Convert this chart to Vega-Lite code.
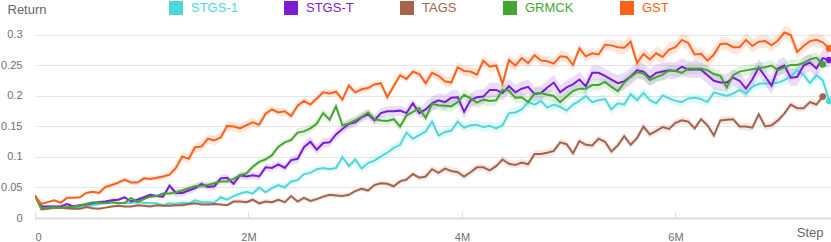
{
"$schema":"https://vega.github.io/schema/vega-lite/v6.json",
"width":796,"height":196,
"autosize":{"type":"none"},
"padding":{"left":35,"top":22,"right":0,"bottom":24},
"background":"white",
"config":{"view":{"stroke":null},"font":"Liberation Sans"},
"data":{"values":[
{"s":"STGS-1","x":0,"y":0.037,"e":0.002},{"s":"STGS-1","x":0.06,"y":0.019,"e":0.002},{"s":"STGS-1","x":0.12,"y":0.016,"e":0.002},{"s":"STGS-1","x":0.18,"y":0.016,"e":0.002},{"s":"STGS-1","x":0.24,"y":0.017,"e":0.002},{"s":"STGS-1","x":0.3,"y":0.016,"e":0.002},{"s":"STGS-1","x":0.36,"y":0.017,"e":0.002},{"s":"STGS-1","x":0.42,"y":0.018,"e":0.002},{"s":"STGS-1","x":0.48,"y":0.019,"e":0.002},{"s":"STGS-1","x":0.54,"y":0.021,"e":0.002},{"s":"STGS-1","x":0.6,"y":0.023,"e":0.002},{"s":"STGS-1","x":0.66,"y":0.025,"e":0.002},{"s":"STGS-1","x":0.72,"y":0.025,"e":0.002},{"s":"STGS-1","x":0.78,"y":0.025,"e":0.002},{"s":"STGS-1","x":0.84,"y":0.024,"e":0.002},{"s":"STGS-1","x":0.9,"y":0.025,"e":0.002},{"s":"STGS-1","x":0.96,"y":0.026,"e":0.002},{"s":"STGS-1","x":1.02,"y":0.025,"e":0.002},{"s":"STGS-1","x":1.08,"y":0.024,"e":0.002},{"s":"STGS-1","x":1.14,"y":0.024,"e":0.002},{"s":"STGS-1","x":1.2,"y":0.021,"e":0.002},{"s":"STGS-1","x":1.26,"y":0.024,"e":0.005},{"s":"STGS-1","x":1.32,"y":0.023,"e":0.005},{"s":"STGS-1","x":1.38,"y":0.025,"e":0.005},{"s":"STGS-1","x":1.44,"y":0.024,"e":0.005},{"s":"STGS-1","x":1.5,"y":0.029,"e":0.005},{"s":"STGS-1","x":1.56,"y":0.026,"e":0.005},{"s":"STGS-1","x":1.62,"y":0.026,"e":0.005},{"s":"STGS-1","x":1.68,"y":0.025,"e":0.005},{"s":"STGS-1","x":1.74,"y":0.034,"e":0.005},{"s":"STGS-1","x":1.8,"y":0.030,"e":0.005},{"s":"STGS-1","x":1.86,"y":0.036,"e":0.005},{"s":"STGS-1","x":1.92,"y":0.040,"e":0.005},{"s":"STGS-1","x":1.98,"y":0.043,"e":0.005},{"s":"STGS-1","x":2.04,"y":0.040,"e":0.005},{"s":"STGS-1","x":2.1,"y":0.050,"e":0.005},{"s":"STGS-1","x":2.16,"y":0.042,"e":0.005},{"s":"STGS-1","x":2.22,"y":0.049,"e":0.005},{"s":"STGS-1","x":2.28,"y":0.054,"e":0.005},{"s":"STGS-1","x":2.34,"y":0.050,"e":0.005},{"s":"STGS-1","x":2.4,"y":0.060,"e":0.005},{"s":"STGS-1","x":2.46,"y":0.062,"e":0.005},{"s":"STGS-1","x":2.52,"y":0.072,"e":0.005},{"s":"STGS-1","x":2.58,"y":0.074,"e":0.005},{"s":"STGS-1","x":2.64,"y":0.080,"e":0.005},{"s":"STGS-1","x":2.7,"y":0.082,"e":0.005},{"s":"STGS-1","x":2.76,"y":0.080,"e":0.005},{"s":"STGS-1","x":2.82,"y":0.082,"e":0.005},{"s":"STGS-1","x":2.88,"y":0.100,"e":0.005},{"s":"STGS-1","x":2.94,"y":0.085,"e":0.005},{"s":"STGS-1","x":3,"y":0.096,"e":0.005},{"s":"STGS-1","x":3.06,"y":0.081,"e":0.008},{"s":"STGS-1","x":3.12,"y":0.090,"e":0.008},{"s":"STGS-1","x":3.18,"y":0.094,"e":0.008},{"s":"STGS-1","x":3.24,"y":0.101,"e":0.008},{"s":"STGS-1","x":3.3,"y":0.107,"e":0.008},{"s":"STGS-1","x":3.36,"y":0.115,"e":0.008},{"s":"STGS-1","x":3.42,"y":0.120,"e":0.008},{"s":"STGS-1","x":3.48,"y":0.140,"e":0.008},{"s":"STGS-1","x":3.54,"y":0.130,"e":0.008},{"s":"STGS-1","x":3.6,"y":0.136,"e":0.008},{"s":"STGS-1","x":3.66,"y":0.142,"e":0.008},{"s":"STGS-1","x":3.72,"y":0.158,"e":0.008},{"s":"STGS-1","x":3.78,"y":0.135,"e":0.008},{"s":"STGS-1","x":3.84,"y":0.141,"e":0.008},{"s":"STGS-1","x":3.9,"y":0.143,"e":0.008},{"s":"STGS-1","x":3.96,"y":0.158,"e":0.008},{"s":"STGS-1","x":4.02,"y":0.148,"e":0.008},{"s":"STGS-1","x":4.08,"y":0.152,"e":0.008},{"s":"STGS-1","x":4.14,"y":0.153,"e":0.008},{"s":"STGS-1","x":4.2,"y":0.149,"e":0.008},{"s":"STGS-1","x":4.26,"y":0.151,"e":0.008},{"s":"STGS-1","x":4.32,"y":0.147,"e":0.008},{"s":"STGS-1","x":4.38,"y":0.152,"e":0.008},{"s":"STGS-1","x":4.44,"y":0.172,"e":0.008},{"s":"STGS-1","x":4.5,"y":0.173,"e":0.008},{"s":"STGS-1","x":4.56,"y":0.178,"e":0.008},{"s":"STGS-1","x":4.62,"y":0.190,"e":0.008},{"s":"STGS-1","x":4.68,"y":0.186,"e":0.008},{"s":"STGS-1","x":4.74,"y":0.192,"e":0.008},{"s":"STGS-1","x":4.8,"y":0.181,"e":0.008},{"s":"STGS-1","x":4.86,"y":0.186,"e":0.008},{"s":"STGS-1","x":4.92,"y":0.182,"e":0.008},{"s":"STGS-1","x":4.98,"y":0.176,"e":0.008},{"s":"STGS-1","x":5.04,"y":0.186,"e":0.008},{"s":"STGS-1","x":5.1,"y":0.192,"e":0.008},{"s":"STGS-1","x":5.16,"y":0.200,"e":0.008},{"s":"STGS-1","x":5.22,"y":0.190,"e":0.008},{"s":"STGS-1","x":5.28,"y":0.193,"e":0.008},{"s":"STGS-1","x":5.34,"y":0.195,"e":0.008},{"s":"STGS-1","x":5.4,"y":0.178,"e":0.008},{"s":"STGS-1","x":5.46,"y":0.188,"e":0.008},{"s":"STGS-1","x":5.52,"y":0.186,"e":0.008},{"s":"STGS-1","x":5.58,"y":0.203,"e":0.008},{"s":"STGS-1","x":5.64,"y":0.193,"e":0.008},{"s":"STGS-1","x":5.7,"y":0.205,"e":0.008},{"s":"STGS-1","x":5.76,"y":0.193,"e":0.008},{"s":"STGS-1","x":5.82,"y":0.188,"e":0.008},{"s":"STGS-1","x":5.88,"y":0.201,"e":0.008},{"s":"STGS-1","x":5.94,"y":0.196,"e":0.008},{"s":"STGS-1","x":6,"y":0.192,"e":0.008},{"s":"STGS-1","x":6.06,"y":0.190,"e":0.008},{"s":"STGS-1","x":6.12,"y":0.196,"e":0.008},{"s":"STGS-1","x":6.18,"y":0.197,"e":0.008},{"s":"STGS-1","x":6.24,"y":0.195,"e":0.008},{"s":"STGS-1","x":6.3,"y":0.190,"e":0.008},{"s":"STGS-1","x":6.36,"y":0.206,"e":0.008},{"s":"STGS-1","x":6.42,"y":0.203,"e":0.008},{"s":"STGS-1","x":6.48,"y":0.200,"e":0.008},{"s":"STGS-1","x":6.54,"y":0.204,"e":0.008},{"s":"STGS-1","x":6.6,"y":0.210,"e":0.008},{"s":"STGS-1","x":6.66,"y":0.204,"e":0.008},{"s":"STGS-1","x":6.72,"y":0.215,"e":0.008},{"s":"STGS-1","x":6.78,"y":0.220,"e":0.008},{"s":"STGS-1","x":6.84,"y":0.221,"e":0.008},{"s":"STGS-1","x":6.9,"y":0.220,"e":0.008},{"s":"STGS-1","x":6.96,"y":0.222,"e":0.008},{"s":"STGS-1","x":7.02,"y":0.226,"e":0.008},{"s":"STGS-1","x":7.08,"y":0.232,"e":0.008},{"s":"STGS-1","x":7.14,"y":0.242,"e":0.008},{"s":"STGS-1","x":7.2,"y":0.235,"e":0.008},{"s":"STGS-1","x":7.26,"y":0.221,"e":0.008},{"s":"STGS-1","x":7.32,"y":0.234,"e":0.008},{"s":"STGS-1","x":7.38,"y":0.226,"e":0.008},{"s":"STGS-1","x":7.44,"y":0.192,"e":0.008},
{"s":"TAGS","x":0,"y":0.037,"e":0.002},{"s":"TAGS","x":0.06,"y":0.014,"e":0.002},{"s":"TAGS","x":0.12,"y":0.015,"e":0.002},{"s":"TAGS","x":0.18,"y":0.017,"e":0.002},{"s":"TAGS","x":0.24,"y":0.017,"e":0.002},{"s":"TAGS","x":0.3,"y":0.016,"e":0.002},{"s":"TAGS","x":0.36,"y":0.015,"e":0.002},{"s":"TAGS","x":0.42,"y":0.015,"e":0.002},{"s":"TAGS","x":0.48,"y":0.018,"e":0.002},{"s":"TAGS","x":0.54,"y":0.016,"e":0.002},{"s":"TAGS","x":0.6,"y":0.015,"e":0.002},{"s":"TAGS","x":0.66,"y":0.017,"e":0.002},{"s":"TAGS","x":0.72,"y":0.019,"e":0.002},{"s":"TAGS","x":0.78,"y":0.020,"e":0.002},{"s":"TAGS","x":0.84,"y":0.019,"e":0.002},{"s":"TAGS","x":0.9,"y":0.019,"e":0.002},{"s":"TAGS","x":0.96,"y":0.021,"e":0.002},{"s":"TAGS","x":1.02,"y":0.020,"e":0.002},{"s":"TAGS","x":1.08,"y":0.019,"e":0.002},{"s":"TAGS","x":1.14,"y":0.021,"e":0.002},{"s":"TAGS","x":1.2,"y":0.020,"e":0.002},{"s":"TAGS","x":1.26,"y":0.020,"e":0.002},{"s":"TAGS","x":1.32,"y":0.021,"e":0.002},{"s":"TAGS","x":1.38,"y":0.021,"e":0.002},{"s":"TAGS","x":1.44,"y":0.023,"e":0.002},{"s":"TAGS","x":1.5,"y":0.024,"e":0.002},{"s":"TAGS","x":1.56,"y":0.022,"e":0.002},{"s":"TAGS","x":1.62,"y":0.022,"e":0.002},{"s":"TAGS","x":1.68,"y":0.023,"e":0.002},{"s":"TAGS","x":1.74,"y":0.022,"e":0.002},{"s":"TAGS","x":1.8,"y":0.021,"e":0.002},{"s":"TAGS","x":1.86,"y":0.027,"e":0.004},{"s":"TAGS","x":1.92,"y":0.027,"e":0.004},{"s":"TAGS","x":1.98,"y":0.026,"e":0.004},{"s":"TAGS","x":2.04,"y":0.030,"e":0.004},{"s":"TAGS","x":2.1,"y":0.024,"e":0.004},{"s":"TAGS","x":2.16,"y":0.027,"e":0.004},{"s":"TAGS","x":2.22,"y":0.026,"e":0.004},{"s":"TAGS","x":2.28,"y":0.030,"e":0.004},{"s":"TAGS","x":2.34,"y":0.026,"e":0.004},{"s":"TAGS","x":2.4,"y":0.036,"e":0.004},{"s":"TAGS","x":2.46,"y":0.027,"e":0.004},{"s":"TAGS","x":2.52,"y":0.033,"e":0.004},{"s":"TAGS","x":2.58,"y":0.028,"e":0.004},{"s":"TAGS","x":2.64,"y":0.031,"e":0.004},{"s":"TAGS","x":2.7,"y":0.035,"e":0.004},{"s":"TAGS","x":2.76,"y":0.038,"e":0.004},{"s":"TAGS","x":2.82,"y":0.037,"e":0.004},{"s":"TAGS","x":2.88,"y":0.036,"e":0.004},{"s":"TAGS","x":2.94,"y":0.038,"e":0.004},{"s":"TAGS","x":3,"y":0.044,"e":0.004},{"s":"TAGS","x":3.06,"y":0.048,"e":0.004},{"s":"TAGS","x":3.12,"y":0.045,"e":0.004},{"s":"TAGS","x":3.18,"y":0.054,"e":0.004},{"s":"TAGS","x":3.24,"y":0.057,"e":0.004},{"s":"TAGS","x":3.3,"y":0.056,"e":0.004},{"s":"TAGS","x":3.36,"y":0.052,"e":0.004},{"s":"TAGS","x":3.42,"y":0.060,"e":0.004},{"s":"TAGS","x":3.48,"y":0.063,"e":0.004},{"s":"TAGS","x":3.54,"y":0.072,"e":0.004},{"s":"TAGS","x":3.6,"y":0.066,"e":0.004},{"s":"TAGS","x":3.66,"y":0.068,"e":0.006},{"s":"TAGS","x":3.72,"y":0.080,"e":0.006},{"s":"TAGS","x":3.78,"y":0.074,"e":0.006},{"s":"TAGS","x":3.84,"y":0.081,"e":0.006},{"s":"TAGS","x":3.9,"y":0.077,"e":0.006},{"s":"TAGS","x":3.96,"y":0.075,"e":0.006},{"s":"TAGS","x":4.02,"y":0.068,"e":0.006},{"s":"TAGS","x":4.08,"y":0.075,"e":0.006},{"s":"TAGS","x":4.14,"y":0.083,"e":0.006},{"s":"TAGS","x":4.2,"y":0.083,"e":0.006},{"s":"TAGS","x":4.26,"y":0.078,"e":0.006},{"s":"TAGS","x":4.32,"y":0.085,"e":0.006},{"s":"TAGS","x":4.38,"y":0.096,"e":0.006},{"s":"TAGS","x":4.44,"y":0.089,"e":0.006},{"s":"TAGS","x":4.5,"y":0.087,"e":0.006},{"s":"TAGS","x":4.56,"y":0.091,"e":0.006},{"s":"TAGS","x":4.62,"y":0.088,"e":0.006},{"s":"TAGS","x":4.68,"y":0.105,"e":0.006},{"s":"TAGS","x":4.74,"y":0.105,"e":0.006},{"s":"TAGS","x":4.8,"y":0.107,"e":0.006},{"s":"TAGS","x":4.86,"y":0.110,"e":0.006},{"s":"TAGS","x":4.92,"y":0.124,"e":0.006},{"s":"TAGS","x":4.98,"y":0.121,"e":0.006},{"s":"TAGS","x":5.04,"y":0.106,"e":0.006},{"s":"TAGS","x":5.1,"y":0.126,"e":0.006},{"s":"TAGS","x":5.16,"y":0.120,"e":0.006},{"s":"TAGS","x":5.22,"y":0.119,"e":0.006},{"s":"TAGS","x":5.28,"y":0.130,"e":0.006},{"s":"TAGS","x":5.34,"y":0.125,"e":0.006},{"s":"TAGS","x":5.4,"y":0.109,"e":0.006},{"s":"TAGS","x":5.46,"y":0.119,"e":0.006},{"s":"TAGS","x":5.52,"y":0.134,"e":0.006},{"s":"TAGS","x":5.58,"y":0.120,"e":0.006},{"s":"TAGS","x":5.64,"y":0.131,"e":0.006},{"s":"TAGS","x":5.7,"y":0.150,"e":0.006},{"s":"TAGS","x":5.76,"y":0.137,"e":0.006},{"s":"TAGS","x":5.82,"y":0.143,"e":0.006},{"s":"TAGS","x":5.88,"y":0.149,"e":0.006},{"s":"TAGS","x":5.94,"y":0.146,"e":0.006},{"s":"TAGS","x":6,"y":0.156,"e":0.006},{"s":"TAGS","x":6.06,"y":0.160,"e":0.006},{"s":"TAGS","x":6.12,"y":0.158,"e":0.006},{"s":"TAGS","x":6.18,"y":0.147,"e":0.006},{"s":"TAGS","x":6.24,"y":0.162,"e":0.006},{"s":"TAGS","x":6.3,"y":0.152,"e":0.006},{"s":"TAGS","x":6.36,"y":0.135,"e":0.006},{"s":"TAGS","x":6.42,"y":0.160,"e":0.006},{"s":"TAGS","x":6.48,"y":0.161,"e":0.006},{"s":"TAGS","x":6.54,"y":0.162,"e":0.006},{"s":"TAGS","x":6.6,"y":0.150,"e":0.006},{"s":"TAGS","x":6.66,"y":0.150,"e":0.006},{"s":"TAGS","x":6.72,"y":0.148,"e":0.006},{"s":"TAGS","x":6.78,"y":0.170,"e":0.006},{"s":"TAGS","x":6.84,"y":0.150,"e":0.006},{"s":"TAGS","x":6.9,"y":0.152,"e":0.006},{"s":"TAGS","x":6.96,"y":0.160,"e":0.006},{"s":"TAGS","x":7.02,"y":0.171,"e":0.006},{"s":"TAGS","x":7.08,"y":0.186,"e":0.006},{"s":"TAGS","x":7.14,"y":0.180,"e":0.006},{"s":"TAGS","x":7.2,"y":0.180,"e":0.006},{"s":"TAGS","x":7.26,"y":0.190,"e":0.006},{"s":"TAGS","x":7.32,"y":0.186,"e":0.006},{"s":"TAGS","x":7.38,"y":0.199,"e":0.006},
{"s":"STGS-T","x":0,"y":0.036,"e":0.003},{"s":"STGS-T","x":0.06,"y":0.019,"e":0.003},{"s":"STGS-T","x":0.12,"y":0.019,"e":0.003},{"s":"STGS-T","x":0.18,"y":0.019,"e":0.003},{"s":"STGS-T","x":0.24,"y":0.019,"e":0.003},{"s":"STGS-T","x":0.3,"y":0.023,"e":0.003},{"s":"STGS-T","x":0.36,"y":0.019,"e":0.003},{"s":"STGS-T","x":0.42,"y":0.021,"e":0.003},{"s":"STGS-T","x":0.48,"y":0.022,"e":0.003},{"s":"STGS-T","x":0.54,"y":0.024,"e":0.003},{"s":"STGS-T","x":0.6,"y":0.026,"e":0.003},{"s":"STGS-T","x":0.66,"y":0.027,"e":0.003},{"s":"STGS-T","x":0.72,"y":0.029,"e":0.003},{"s":"STGS-T","x":0.78,"y":0.030,"e":0.003},{"s":"STGS-T","x":0.84,"y":0.034,"e":0.003},{"s":"STGS-T","x":0.9,"y":0.027,"e":0.003},{"s":"STGS-T","x":0.96,"y":0.030,"e":0.003},{"s":"STGS-T","x":1.02,"y":0.034,"e":0.003},{"s":"STGS-T","x":1.08,"y":0.038,"e":0.003},{"s":"STGS-T","x":1.14,"y":0.036,"e":0.003},{"s":"STGS-T","x":1.2,"y":0.035,"e":0.003},{"s":"STGS-T","x":1.26,"y":0.053,"e":0.006},{"s":"STGS-T","x":1.32,"y":0.041,"e":0.006},{"s":"STGS-T","x":1.38,"y":0.041,"e":0.006},{"s":"STGS-T","x":1.44,"y":0.045,"e":0.006},{"s":"STGS-T","x":1.5,"y":0.049,"e":0.006},{"s":"STGS-T","x":1.56,"y":0.056,"e":0.006},{"s":"STGS-T","x":1.62,"y":0.051,"e":0.006},{"s":"STGS-T","x":1.68,"y":0.052,"e":0.006},{"s":"STGS-T","x":1.74,"y":0.065,"e":0.006},{"s":"STGS-T","x":1.8,"y":0.066,"e":0.006},{"s":"STGS-T","x":1.86,"y":0.056,"e":0.006},{"s":"STGS-T","x":1.92,"y":0.070,"e":0.006},{"s":"STGS-T","x":1.98,"y":0.068,"e":0.006},{"s":"STGS-T","x":2.04,"y":0.070,"e":0.006},{"s":"STGS-T","x":2.1,"y":0.068,"e":0.006},{"s":"STGS-T","x":2.16,"y":0.083,"e":0.006},{"s":"STGS-T","x":2.22,"y":0.082,"e":0.006},{"s":"STGS-T","x":2.28,"y":0.088,"e":0.006},{"s":"STGS-T","x":2.34,"y":0.082,"e":0.006},{"s":"STGS-T","x":2.4,"y":0.095,"e":0.006},{"s":"STGS-T","x":2.46,"y":0.097,"e":0.008},{"s":"STGS-T","x":2.52,"y":0.116,"e":0.008},{"s":"STGS-T","x":2.58,"y":0.125,"e":0.008},{"s":"STGS-T","x":2.64,"y":0.112,"e":0.008},{"s":"STGS-T","x":2.7,"y":0.123,"e":0.008},{"s":"STGS-T","x":2.76,"y":0.124,"e":0.008},{"s":"STGS-T","x":2.82,"y":0.137,"e":0.008},{"s":"STGS-T","x":2.88,"y":0.146,"e":0.008},{"s":"STGS-T","x":2.94,"y":0.154,"e":0.008},{"s":"STGS-T","x":3,"y":0.157,"e":0.008},{"s":"STGS-T","x":3.06,"y":0.165,"e":0.008},{"s":"STGS-T","x":3.12,"y":0.170,"e":0.008},{"s":"STGS-T","x":3.18,"y":0.160,"e":0.008},{"s":"STGS-T","x":3.24,"y":0.172,"e":0.008},{"s":"STGS-T","x":3.3,"y":0.175,"e":0.008},{"s":"STGS-T","x":3.36,"y":0.175,"e":0.008},{"s":"STGS-T","x":3.42,"y":0.176,"e":0.008},{"s":"STGS-T","x":3.48,"y":0.172,"e":0.008},{"s":"STGS-T","x":3.54,"y":0.188,"e":0.008},{"s":"STGS-T","x":3.6,"y":0.172,"e":0.008},{"s":"STGS-T","x":3.66,"y":0.178,"e":0.012},{"s":"STGS-T","x":3.72,"y":0.188,"e":0.012},{"s":"STGS-T","x":3.78,"y":0.193,"e":0.012},{"s":"STGS-T","x":3.84,"y":0.190,"e":0.012},{"s":"STGS-T","x":3.9,"y":0.197,"e":0.012},{"s":"STGS-T","x":3.96,"y":0.198,"e":0.012},{"s":"STGS-T","x":4.02,"y":0.174,"e":0.012},{"s":"STGS-T","x":4.08,"y":0.193,"e":0.012},{"s":"STGS-T","x":4.14,"y":0.198,"e":0.012},{"s":"STGS-T","x":4.2,"y":0.199,"e":0.012},{"s":"STGS-T","x":4.26,"y":0.210,"e":0.012},{"s":"STGS-T","x":4.32,"y":0.210,"e":0.012},{"s":"STGS-T","x":4.38,"y":0.205,"e":0.012},{"s":"STGS-T","x":4.44,"y":0.216,"e":0.012},{"s":"STGS-T","x":4.5,"y":0.206,"e":0.012},{"s":"STGS-T","x":4.56,"y":0.212,"e":0.012},{"s":"STGS-T","x":4.62,"y":0.215,"e":0.012},{"s":"STGS-T","x":4.68,"y":0.203,"e":0.012},{"s":"STGS-T","x":4.74,"y":0.205,"e":0.012},{"s":"STGS-T","x":4.8,"y":0.214,"e":0.012},{"s":"STGS-T","x":4.86,"y":0.222,"e":0.012},{"s":"STGS-T","x":4.92,"y":0.206,"e":0.012},{"s":"STGS-T","x":4.98,"y":0.214,"e":0.012},{"s":"STGS-T","x":5.04,"y":0.219,"e":0.012},{"s":"STGS-T","x":5.1,"y":0.227,"e":0.012},{"s":"STGS-T","x":5.16,"y":0.216,"e":0.012},{"s":"STGS-T","x":5.22,"y":0.238,"e":0.012},{"s":"STGS-T","x":5.28,"y":0.238,"e":0.012},{"s":"STGS-T","x":5.34,"y":0.233,"e":0.012},{"s":"STGS-T","x":5.4,"y":0.227,"e":0.012},{"s":"STGS-T","x":5.46,"y":0.221,"e":0.014},{"s":"STGS-T","x":5.52,"y":0.224,"e":0.014},{"s":"STGS-T","x":5.58,"y":0.232,"e":0.014},{"s":"STGS-T","x":5.64,"y":0.242,"e":0.014},{"s":"STGS-T","x":5.7,"y":0.240,"e":0.014},{"s":"STGS-T","x":5.76,"y":0.230,"e":0.014},{"s":"STGS-T","x":5.82,"y":0.238,"e":0.014},{"s":"STGS-T","x":5.88,"y":0.240,"e":0.014},{"s":"STGS-T","x":5.94,"y":0.242,"e":0.014},{"s":"STGS-T","x":6,"y":0.241,"e":0.014},{"s":"STGS-T","x":6.06,"y":0.248,"e":0.014},{"s":"STGS-T","x":6.12,"y":0.243,"e":0.014},{"s":"STGS-T","x":6.18,"y":0.244,"e":0.014},{"s":"STGS-T","x":6.24,"y":0.243,"e":0.014},{"s":"STGS-T","x":6.3,"y":0.234,"e":0.014},{"s":"STGS-T","x":6.36,"y":0.225,"e":0.014},{"s":"STGS-T","x":6.42,"y":0.222,"e":0.014},{"s":"STGS-T","x":6.48,"y":0.222,"e":0.014},{"s":"STGS-T","x":6.54,"y":0.230,"e":0.014},{"s":"STGS-T","x":6.6,"y":0.225,"e":0.014},{"s":"STGS-T","x":6.66,"y":0.212,"e":0.014},{"s":"STGS-T","x":6.72,"y":0.227,"e":0.014},{"s":"STGS-T","x":6.78,"y":0.247,"e":0.014},{"s":"STGS-T","x":6.84,"y":0.232,"e":0.014},{"s":"STGS-T","x":6.9,"y":0.217,"e":0.014},{"s":"STGS-T","x":6.96,"y":0.245,"e":0.014},{"s":"STGS-T","x":7.02,"y":0.250,"e":0.014},{"s":"STGS-T","x":7.08,"y":0.230,"e":0.014},{"s":"STGS-T","x":7.14,"y":0.231,"e":0.014},{"s":"STGS-T","x":7.2,"y":0.250,"e":0.014},{"s":"STGS-T","x":7.26,"y":0.255,"e":0.014},{"s":"STGS-T","x":7.32,"y":0.245,"e":0.014},{"s":"STGS-T","x":7.38,"y":0.262,"e":0.014},{"s":"STGS-T","x":7.44,"y":0.259,"e":0.014},
{"s":"GRMCK","x":0,"y":0.037,"e":0.002},{"s":"GRMCK","x":0.06,"y":0.016,"e":0.002},{"s":"GRMCK","x":0.12,"y":0.017,"e":0.002},{"s":"GRMCK","x":0.18,"y":0.018,"e":0.002},{"s":"GRMCK","x":0.24,"y":0.017,"e":0.002},{"s":"GRMCK","x":0.3,"y":0.018,"e":0.002},{"s":"GRMCK","x":0.36,"y":0.018,"e":0.002},{"s":"GRMCK","x":0.42,"y":0.020,"e":0.002},{"s":"GRMCK","x":0.48,"y":0.023,"e":0.002},{"s":"GRMCK","x":0.54,"y":0.026,"e":0.002},{"s":"GRMCK","x":0.6,"y":0.025,"e":0.002},{"s":"GRMCK","x":0.66,"y":0.024,"e":0.002},{"s":"GRMCK","x":0.72,"y":0.026,"e":0.002},{"s":"GRMCK","x":0.78,"y":0.024,"e":0.002},{"s":"GRMCK","x":0.84,"y":0.025,"e":0.002},{"s":"GRMCK","x":0.9,"y":0.033,"e":0.002},{"s":"GRMCK","x":0.96,"y":0.026,"e":0.002},{"s":"GRMCK","x":1.02,"y":0.031,"e":0.002},{"s":"GRMCK","x":1.08,"y":0.035,"e":0.002},{"s":"GRMCK","x":1.14,"y":0.036,"e":0.002},{"s":"GRMCK","x":1.2,"y":0.040,"e":0.002},{"s":"GRMCK","x":1.26,"y":0.040,"e":0.005},{"s":"GRMCK","x":1.32,"y":0.042,"e":0.005},{"s":"GRMCK","x":1.38,"y":0.045,"e":0.005},{"s":"GRMCK","x":1.44,"y":0.049,"e":0.005},{"s":"GRMCK","x":1.5,"y":0.052,"e":0.005},{"s":"GRMCK","x":1.56,"y":0.053,"e":0.005},{"s":"GRMCK","x":1.62,"y":0.054,"e":0.005},{"s":"GRMCK","x":1.68,"y":0.057,"e":0.005},{"s":"GRMCK","x":1.74,"y":0.060,"e":0.005},{"s":"GRMCK","x":1.8,"y":0.060,"e":0.005},{"s":"GRMCK","x":1.86,"y":0.064,"e":0.005},{"s":"GRMCK","x":1.92,"y":0.070,"e":0.005},{"s":"GRMCK","x":1.98,"y":0.073,"e":0.005},{"s":"GRMCK","x":2.04,"y":0.084,"e":0.005},{"s":"GRMCK","x":2.1,"y":0.092,"e":0.005},{"s":"GRMCK","x":2.16,"y":0.096,"e":0.005},{"s":"GRMCK","x":2.22,"y":0.103,"e":0.005},{"s":"GRMCK","x":2.28,"y":0.117,"e":0.005},{"s":"GRMCK","x":2.34,"y":0.124,"e":0.005},{"s":"GRMCK","x":2.4,"y":0.128,"e":0.005},{"s":"GRMCK","x":2.46,"y":0.140,"e":0.007},{"s":"GRMCK","x":2.52,"y":0.142,"e":0.007},{"s":"GRMCK","x":2.58,"y":0.147,"e":0.007},{"s":"GRMCK","x":2.64,"y":0.155,"e":0.007},{"s":"GRMCK","x":2.7,"y":0.172,"e":0.007},{"s":"GRMCK","x":2.76,"y":0.161,"e":0.007},{"s":"GRMCK","x":2.82,"y":0.183,"e":0.007},{"s":"GRMCK","x":2.88,"y":0.152,"e":0.007},{"s":"GRMCK","x":2.94,"y":0.155,"e":0.007},{"s":"GRMCK","x":3,"y":0.160,"e":0.007},{"s":"GRMCK","x":3.06,"y":0.166,"e":0.007},{"s":"GRMCK","x":3.12,"y":0.173,"e":0.007},{"s":"GRMCK","x":3.18,"y":0.162,"e":0.007},{"s":"GRMCK","x":3.24,"y":0.160,"e":0.007},{"s":"GRMCK","x":3.3,"y":0.159,"e":0.007},{"s":"GRMCK","x":3.36,"y":0.162,"e":0.007},{"s":"GRMCK","x":3.42,"y":0.150,"e":0.007},{"s":"GRMCK","x":3.48,"y":0.168,"e":0.007},{"s":"GRMCK","x":3.54,"y":0.174,"e":0.007},{"s":"GRMCK","x":3.6,"y":0.180,"e":0.007},{"s":"GRMCK","x":3.66,"y":0.164,"e":0.009},{"s":"GRMCK","x":3.72,"y":0.187,"e":0.009},{"s":"GRMCK","x":3.78,"y":0.185,"e":0.009},{"s":"GRMCK","x":3.84,"y":0.184,"e":0.009},{"s":"GRMCK","x":3.9,"y":0.183,"e":0.009},{"s":"GRMCK","x":3.96,"y":0.190,"e":0.009},{"s":"GRMCK","x":4.02,"y":0.202,"e":0.009},{"s":"GRMCK","x":4.08,"y":0.196,"e":0.009},{"s":"GRMCK","x":4.14,"y":0.189,"e":0.009},{"s":"GRMCK","x":4.2,"y":0.194,"e":0.009},{"s":"GRMCK","x":4.26,"y":0.192,"e":0.009},{"s":"GRMCK","x":4.32,"y":0.193,"e":0.009},{"s":"GRMCK","x":4.38,"y":0.210,"e":0.009},{"s":"GRMCK","x":4.44,"y":0.209,"e":0.009},{"s":"GRMCK","x":4.5,"y":0.197,"e":0.009},{"s":"GRMCK","x":4.56,"y":0.198,"e":0.009},{"s":"GRMCK","x":4.62,"y":0.190,"e":0.009},{"s":"GRMCK","x":4.68,"y":0.204,"e":0.009},{"s":"GRMCK","x":4.74,"y":0.205,"e":0.009},{"s":"GRMCK","x":4.8,"y":0.202,"e":0.009},{"s":"GRMCK","x":4.86,"y":0.200,"e":0.009},{"s":"GRMCK","x":4.92,"y":0.190,"e":0.009},{"s":"GRMCK","x":4.98,"y":0.199,"e":0.009},{"s":"GRMCK","x":5.04,"y":0.208,"e":0.009},{"s":"GRMCK","x":5.1,"y":0.212,"e":0.009},{"s":"GRMCK","x":5.16,"y":0.212,"e":0.009},{"s":"GRMCK","x":5.22,"y":0.218,"e":0.009},{"s":"GRMCK","x":5.28,"y":0.218,"e":0.009},{"s":"GRMCK","x":5.34,"y":0.223,"e":0.009},{"s":"GRMCK","x":5.4,"y":0.215,"e":0.009},{"s":"GRMCK","x":5.46,"y":0.208,"e":0.009},{"s":"GRMCK","x":5.52,"y":0.222,"e":0.009},{"s":"GRMCK","x":5.58,"y":0.231,"e":0.009},{"s":"GRMCK","x":5.64,"y":0.239,"e":0.009},{"s":"GRMCK","x":5.7,"y":0.237,"e":0.009},{"s":"GRMCK","x":5.76,"y":0.226,"e":0.009},{"s":"GRMCK","x":5.82,"y":0.231,"e":0.009},{"s":"GRMCK","x":5.88,"y":0.235,"e":0.009},{"s":"GRMCK","x":5.94,"y":0.242,"e":0.009},{"s":"GRMCK","x":6,"y":0.241,"e":0.009},{"s":"GRMCK","x":6.06,"y":0.238,"e":0.009},{"s":"GRMCK","x":6.12,"y":0.245,"e":0.009},{"s":"GRMCK","x":6.18,"y":0.245,"e":0.009},{"s":"GRMCK","x":6.24,"y":0.245,"e":0.009},{"s":"GRMCK","x":6.3,"y":0.242,"e":0.009},{"s":"GRMCK","x":6.36,"y":0.236,"e":0.009},{"s":"GRMCK","x":6.42,"y":0.233,"e":0.009},{"s":"GRMCK","x":6.48,"y":0.214,"e":0.009},{"s":"GRMCK","x":6.54,"y":0.234,"e":0.009},{"s":"GRMCK","x":6.6,"y":0.240,"e":0.009},{"s":"GRMCK","x":6.66,"y":0.242,"e":0.009},{"s":"GRMCK","x":6.72,"y":0.244,"e":0.009},{"s":"GRMCK","x":6.78,"y":0.246,"e":0.009},{"s":"GRMCK","x":6.84,"y":0.247,"e":0.009},{"s":"GRMCK","x":6.9,"y":0.250,"e":0.009},{"s":"GRMCK","x":6.96,"y":0.242,"e":0.009},{"s":"GRMCK","x":7.02,"y":0.247,"e":0.009},{"s":"GRMCK","x":7.08,"y":0.251,"e":0.009},{"s":"GRMCK","x":7.14,"y":0.251,"e":0.009},{"s":"GRMCK","x":7.2,"y":0.254,"e":0.009},{"s":"GRMCK","x":7.26,"y":0.260,"e":0.009},{"s":"GRMCK","x":7.32,"y":0.263,"e":0.009},{"s":"GRMCK","x":7.38,"y":0.252,"e":0.009},
{"s":"GST","x":0,"y":0.036,"e":0.002},{"s":"GST","x":0.06,"y":0.023,"e":0.002},{"s":"GST","x":0.12,"y":0.026,"e":0.002},{"s":"GST","x":0.18,"y":0.029,"e":0.002},{"s":"GST","x":0.24,"y":0.025,"e":0.002},{"s":"GST","x":0.3,"y":0.033,"e":0.002},{"s":"GST","x":0.36,"y":0.033,"e":0.002},{"s":"GST","x":0.42,"y":0.034,"e":0.002},{"s":"GST","x":0.48,"y":0.041,"e":0.002},{"s":"GST","x":0.54,"y":0.043,"e":0.002},{"s":"GST","x":0.6,"y":0.041,"e":0.004},{"s":"GST","x":0.66,"y":0.051,"e":0.004},{"s":"GST","x":0.72,"y":0.054,"e":0.004},{"s":"GST","x":0.78,"y":0.058,"e":0.004},{"s":"GST","x":0.84,"y":0.063,"e":0.004},{"s":"GST","x":0.9,"y":0.058,"e":0.004},{"s":"GST","x":0.96,"y":0.058,"e":0.004},{"s":"GST","x":1.02,"y":0.065,"e":0.004},{"s":"GST","x":1.08,"y":0.064,"e":0.004},{"s":"GST","x":1.14,"y":0.066,"e":0.004},{"s":"GST","x":1.2,"y":0.068,"e":0.004},{"s":"GST","x":1.26,"y":0.071,"e":0.004},{"s":"GST","x":1.32,"y":0.082,"e":0.008},{"s":"GST","x":1.38,"y":0.101,"e":0.008},{"s":"GST","x":1.44,"y":0.097,"e":0.008},{"s":"GST","x":1.5,"y":0.116,"e":0.008},{"s":"GST","x":1.56,"y":0.117,"e":0.008},{"s":"GST","x":1.62,"y":0.130,"e":0.008},{"s":"GST","x":1.68,"y":0.127,"e":0.008},{"s":"GST","x":1.74,"y":0.132,"e":0.008},{"s":"GST","x":1.8,"y":0.151,"e":0.008},{"s":"GST","x":1.86,"y":0.150,"e":0.008},{"s":"GST","x":1.92,"y":0.147,"e":0.008},{"s":"GST","x":1.98,"y":0.152,"e":0.008},{"s":"GST","x":2.04,"y":0.157,"e":0.008},{"s":"GST","x":2.1,"y":0.153,"e":0.006},{"s":"GST","x":2.16,"y":0.171,"e":0.006},{"s":"GST","x":2.22,"y":0.178,"e":0.006},{"s":"GST","x":2.28,"y":0.173,"e":0.006},{"s":"GST","x":2.34,"y":0.175,"e":0.006},{"s":"GST","x":2.4,"y":0.167,"e":0.006},{"s":"GST","x":2.46,"y":0.184,"e":0.006},{"s":"GST","x":2.52,"y":0.192,"e":0.006},{"s":"GST","x":2.58,"y":0.186,"e":0.006},{"s":"GST","x":2.64,"y":0.196,"e":0.006},{"s":"GST","x":2.7,"y":0.206,"e":0.006},{"s":"GST","x":2.76,"y":0.204,"e":0.006},{"s":"GST","x":2.82,"y":0.207,"e":0.006},{"s":"GST","x":2.88,"y":0.194,"e":0.006},{"s":"GST","x":2.94,"y":0.217,"e":0.006},{"s":"GST","x":3,"y":0.206,"e":0.006},{"s":"GST","x":3.06,"y":0.211,"e":0.006},{"s":"GST","x":3.12,"y":0.213,"e":0.006},{"s":"GST","x":3.18,"y":0.219,"e":0.006},{"s":"GST","x":3.24,"y":0.221,"e":0.006},{"s":"GST","x":3.3,"y":0.198,"e":0.006},{"s":"GST","x":3.36,"y":0.216,"e":0.006},{"s":"GST","x":3.42,"y":0.234,"e":0.006},{"s":"GST","x":3.48,"y":0.228,"e":0.006},{"s":"GST","x":3.54,"y":0.240,"e":0.006},{"s":"GST","x":3.6,"y":0.236,"e":0.006},{"s":"GST","x":3.66,"y":0.221,"e":0.009},{"s":"GST","x":3.72,"y":0.238,"e":0.009},{"s":"GST","x":3.78,"y":0.233,"e":0.009},{"s":"GST","x":3.84,"y":0.224,"e":0.009},{"s":"GST","x":3.9,"y":0.222,"e":0.009},{"s":"GST","x":3.96,"y":0.247,"e":0.009},{"s":"GST","x":4.02,"y":0.241,"e":0.009},{"s":"GST","x":4.08,"y":0.240,"e":0.009},{"s":"GST","x":4.14,"y":0.235,"e":0.009},{"s":"GST","x":4.2,"y":0.258,"e":0.009},{"s":"GST","x":4.26,"y":0.248,"e":0.009},{"s":"GST","x":4.32,"y":0.250,"e":0.009},{"s":"GST","x":4.38,"y":0.220,"e":0.009},{"s":"GST","x":4.44,"y":0.259,"e":0.009},{"s":"GST","x":4.5,"y":0.250,"e":0.009},{"s":"GST","x":4.56,"y":0.262,"e":0.009},{"s":"GST","x":4.62,"y":0.254,"e":0.009},{"s":"GST","x":4.68,"y":0.267,"e":0.009},{"s":"GST","x":4.74,"y":0.258,"e":0.009},{"s":"GST","x":4.8,"y":0.257,"e":0.009},{"s":"GST","x":4.86,"y":0.253,"e":0.009},{"s":"GST","x":4.92,"y":0.265,"e":0.009},{"s":"GST","x":4.98,"y":0.264,"e":0.009},{"s":"GST","x":5.04,"y":0.251,"e":0.009},{"s":"GST","x":5.1,"y":0.278,"e":0.009},{"s":"GST","x":5.16,"y":0.265,"e":0.009},{"s":"GST","x":5.22,"y":0.270,"e":0.009},{"s":"GST","x":5.28,"y":0.268,"e":0.009},{"s":"GST","x":5.34,"y":0.284,"e":0.009},{"s":"GST","x":5.4,"y":0.283,"e":0.009},{"s":"GST","x":5.46,"y":0.280,"e":0.011},{"s":"GST","x":5.52,"y":0.279,"e":0.011},{"s":"GST","x":5.58,"y":0.289,"e":0.011},{"s":"GST","x":5.64,"y":0.254,"e":0.011},{"s":"GST","x":5.7,"y":0.269,"e":0.011},{"s":"GST","x":5.76,"y":0.260,"e":0.011},{"s":"GST","x":5.82,"y":0.270,"e":0.011},{"s":"GST","x":5.88,"y":0.264,"e":0.011},{"s":"GST","x":5.94,"y":0.276,"e":0.011},{"s":"GST","x":6,"y":0.280,"e":0.011},{"s":"GST","x":6.06,"y":0.292,"e":0.011},{"s":"GST","x":6.12,"y":0.287,"e":0.011},{"s":"GST","x":6.18,"y":0.268,"e":0.011},{"s":"GST","x":6.24,"y":0.269,"e":0.011},{"s":"GST","x":6.3,"y":0.258,"e":0.011},{"s":"GST","x":6.36,"y":0.268,"e":0.011},{"s":"GST","x":6.42,"y":0.285,"e":0.011},{"s":"GST","x":6.48,"y":0.286,"e":0.011},{"s":"GST","x":6.54,"y":0.280,"e":0.011},{"s":"GST","x":6.6,"y":0.280,"e":0.011},{"s":"GST","x":6.66,"y":0.292,"e":0.011},{"s":"GST","x":6.72,"y":0.282,"e":0.011},{"s":"GST","x":6.78,"y":0.289,"e":0.011},{"s":"GST","x":6.84,"y":0.290,"e":0.011},{"s":"GST","x":6.9,"y":0.283,"e":0.011},{"s":"GST","x":6.96,"y":0.291,"e":0.011},{"s":"GST","x":7.02,"y":0.304,"e":0.011},{"s":"GST","x":7.08,"y":0.300,"e":0.011},{"s":"GST","x":7.14,"y":0.272,"e":0.011},{"s":"GST","x":7.2,"y":0.282,"e":0.011},{"s":"GST","x":7.26,"y":0.290,"e":0.011},{"s":"GST","x":7.32,"y":0.292,"e":0.011},{"s":"GST","x":7.38,"y":0.288,"e":0.011},{"s":"GST","x":7.44,"y":0.278,"e":0.011}
]},
"encoding":{
"x":{"field":"x","type":"quantitative","scale":{"domain":[0,7.457],"nice":false,"zero":false},
 "axis":{"values":[0,2,4,6],"labelExpr":"datum.value === 0 ? '0' : datum.value + 'M'","grid":false,
 "domainColor":"#dcdcdc","domainWidth":2,"tickColor":"#dcdcdc","tickSize":-6,"tickWidth":1,
 "labelPadding":19,"labelFontSize":11,"labelColor":"#6e7079","labelFont":"Liberation Sans",
 "title":"Step","titleAnchor":"end","titleAlign":"right","titleBaseline":"middle","titleX":788,"titleY":14,
 "titleFontSize":13,"titleFontWeight":"normal","titleColor":"#666666","titleFont":"Liberation Sans"}},
"y":{"field":"y","type":"quantitative","scale":{"domain":[0,0.3213],"nice":false},
 "axis":{"values":[0,0.05,0.1,0.15,0.2,0.25,0.3],"format":"~g","domain":false,"ticks":false,"labelPadding":13,
 "labelFontSize":11,"labelColor":"#6e7079","labelFont":"Liberation Sans","gridColor":"#e6e6e6","gridWidth":1,
 "title":"Return","titleAngle":0,"titleAlign":"left","titleBaseline":"middle","titleX":-28,"titleY":-13,
 "titleFontSize":13,"titleFontWeight":"normal","titleColor":"#666666","titleFont":"Liberation Sans"}},
"color":{"field":"s","type":"nominal","scale":{"domain":["STGS-1","STGS-T","TAGS","GRMCK","GST"],"range":["#4fd8dc","#7a1cd6","#a5634c","#44a632","#ff6118"]},
 "legend":{"orient":"none","direction":"horizontal","legendX":134,"legendY":-21,"title":null,"symbolType":"square","symbolSize":196,
 "labelFontSize":13,"labelFont":"Liberation Sans","labelOffset":8,"columnPadding":46,"padding":0,"symbolStrokeWidth":0,"symbolOpacity":1,
 "encode":{"labels":{"update":{"fill":{"scale":"color","field":"value"}}},"symbols":{"update":{"fill":{"scale":"color","field":"value"},"strokeWidth":{"value":0},"opacity":{"value":1}}}}}}
},
"layer":[
{"mark":{"type":"errorband","opacity":0.15,"clip":true},"encoding":{"yError":{"field":"e"}}},
{"mark":{"type":"line","strokeWidth":2,"clip":true}},
{"transform":[{"joinaggregate":[{"op":"max","field":"x","as":"mx"}],"groupby":["s"]},{"filter":"datum.x === datum.mx"}],
 "mark":{"type":"circle","size":45,"opacity":1}}
]
}
